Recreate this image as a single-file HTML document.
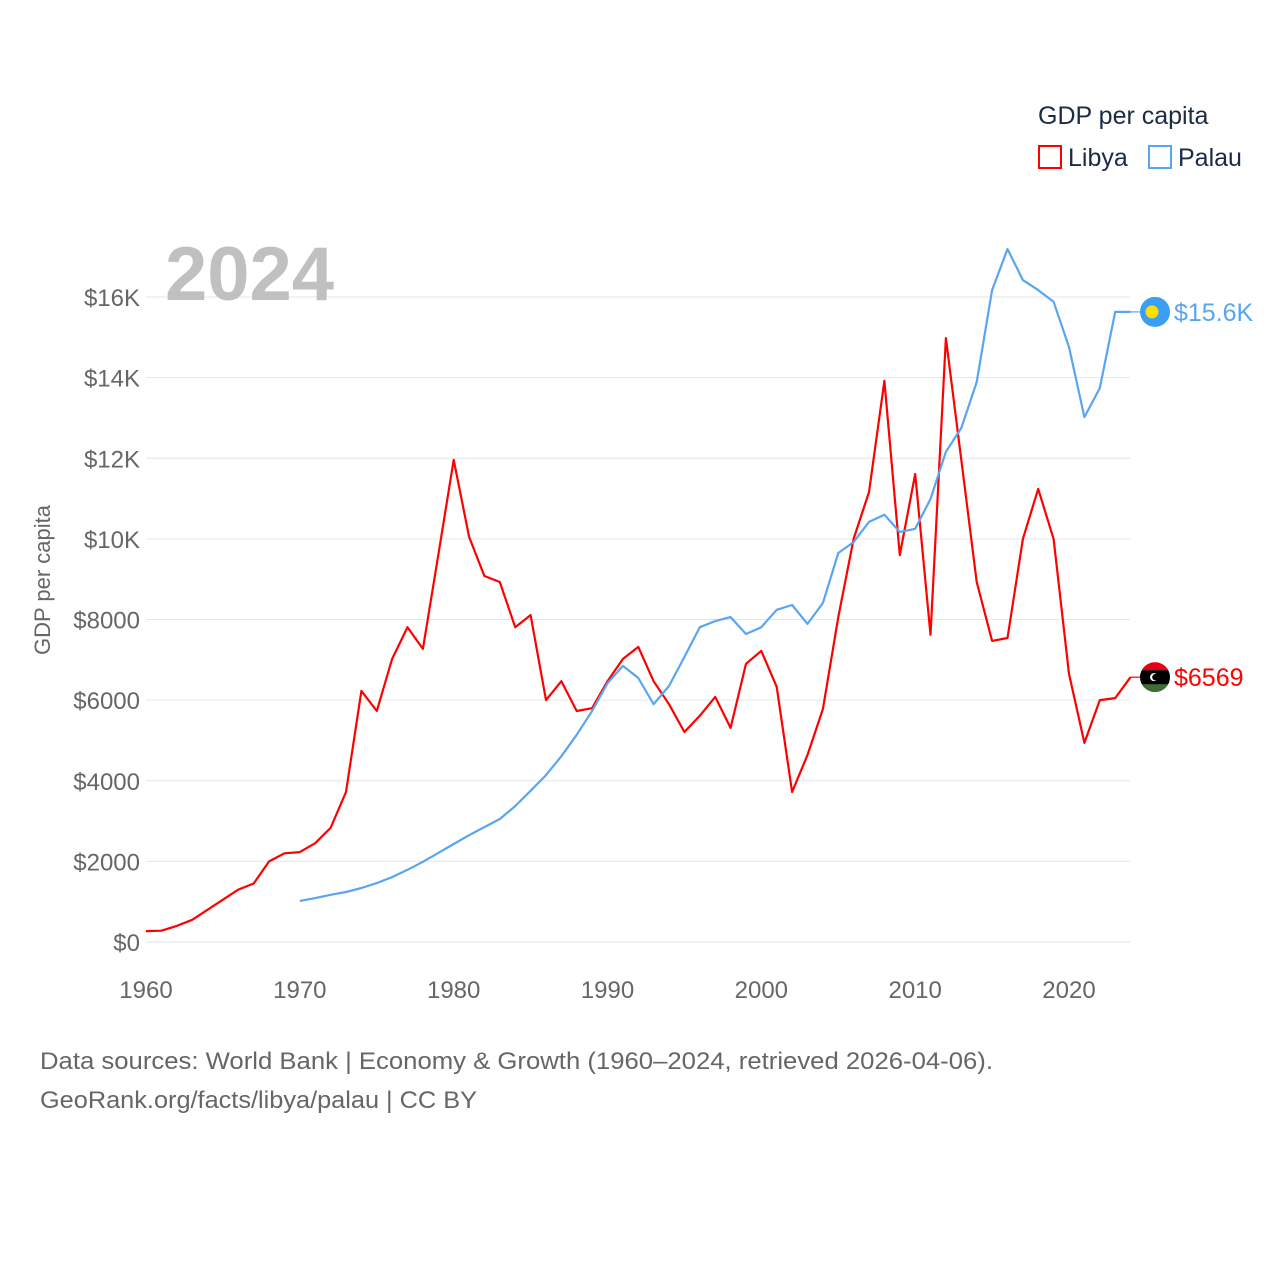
<!DOCTYPE html>
<html><head><meta charset="utf-8"><style>
body{margin:0;background:#fff;font-family:"Liberation Sans",sans-serif;}
svg text{font-family:"Liberation Sans",sans-serif;}
</style></head><body>
<svg id="chart" width="1280" height="1280" viewBox="0 0 1280 1280">
<rect width="1280" height="1280" fill="#fff"/>
<g id="grid"></g><g id="ticks"></g>
<text x="165" y="300" font-size="76" font-weight="bold" fill="#c0c0c0">2024</text>
<text transform="translate(50,580) rotate(-90)" text-anchor="middle" font-size="22" fill="#666">GDP per capita</text>
<g id="series"></g>
<g>
<text x="1038" y="124" font-size="25" fill="#1a2b45">GDP per capita</text>
<rect x="1039" y="146" width="22" height="22" fill="none" stroke="#f00" stroke-width="2"/>
<text x="1068" y="166" font-size="25" fill="#1a2b45">Libya</text>
<rect x="1149" y="146" width="22" height="22" fill="none" stroke="#5aa5f0" stroke-width="2"/>
<text x="1178" y="166" font-size="25" fill="#1a2b45">Palau</text>
</g>
<text x="40" y="1069" font-size="24" fill="#666" textLength="953" lengthAdjust="spacingAndGlyphs">Data sources: World Bank | Economy &amp; Growth (1960–2024, retrieved 2026-04-06).</text>
<text x="40" y="1108" font-size="24" fill="#666" textLength="437" lengthAdjust="spacingAndGlyphs">GeoRank.org/facts/libya/palau | CC BY</text>
</svg>
<script>
const yTicks=[0,2000,4000,6000,8000,10000,12000,14000,16000];
const yTickLabels=["$0","$2000","$4000","$6000","$8000","$10K","$12K","$14K","$16K"];
const xTicks=[1960,1970,1980,1990,2000,2010,2020];
const libyaYears=[1960,1961,1962,1963,1964,1965,1966,1967,1968,1969,1970,1971,1972,1973,1974,1975,1976,1977,1978,1979,1980,1981,1982,1983,1984,1985,1986,1987,1988,1989,1990,1991,1992,1993,1994,1995,1996,1997,1998,1999,2000,2001,2002,2003,2004,2005,2006,2007,2008,2009,2010,2011,2012,2013,2014,2015,2016,2017,2018,2019,2020,2021,2022,2023,2024];
const libyaValues=[270,280,400,550,800,1050,1300,1450,2000,2200,2230,2450,2830,3720,6230,5730,7020,7810,7270,9600,11960,10050,9080,8930,7810,8110,6000,6470,5730,5800,6470,7020,7320,6470,5900,5210,5610,6080,5310,6900,7220,6330,3720,4640,5780,8060,10000,11160,13920,9600,11610,7620,14980,11960,8930,7470,7540,10000,11240,10000,6650,4940,6000,6050,6569];
const palauYears=[1970,1971,1972,1973,1974,1975,1976,1977,1978,1979,1980,1981,1982,1983,1984,1985,1986,1987,1988,1989,1990,1991,1992,1993,1994,1995,1996,1997,1998,1999,2000,2001,2002,2003,2004,2005,2006,2007,2008,2009,2010,2011,2012,2013,2014,2015,2016,2017,2018,2019,2020,2021,2022,2023,2024];
const palauValues=[1020,1090,1170,1240,1340,1460,1610,1790,1990,2210,2430,2650,2850,3050,3370,3750,4140,4610,5140,5730,6420,6850,6550,5900,6350,7070,7810,7960,8060,7640,7810,8240,8360,7890,8410,9650,9920,10420,10600,10170,10250,10990,12160,12750,13890,16170,17190,16420,16170,15880,14760,13020,13740,15630,15630];
const endLabels=["$6569","$15.6K"];
const NS="http://www.w3.org/2000/svg";
const x=yr=>146+(yr-1960)*(1069-146)/60;
const y=v=>942-v*(942-297)/16000;
function mk(tag,attrs,parent){const e=document.createElementNS(NS,tag);for(const k in attrs)e.setAttribute(k,attrs[k]);parent.appendChild(e);return e;}
const grid=document.getElementById('grid'),ticks=document.getElementById('ticks'),series=document.getElementById('series');
yTicks.forEach((t,i)=>{
 const l=mk('line',{x1:146,x2:1130,y1:y(t),y2:y(t),stroke:'#e6e6e6','stroke-width':1},grid);
 
 
 const tx=mk('text',{x:140,y:y(t)+9,'text-anchor':'end','font-size':24,fill:'#666'},ticks);
 tx.textContent=yTickLabels[i];
 
 
});
xTicks.forEach(t=>{
 const tx=mk('text',{x:x(t),y:998,'text-anchor':'middle','font-size':24,fill:'#666'},ticks);
 tx.textContent=t;
 
 
});
function draw(years,vals,color,name){
 const d=years.map((yr,i)=>(i?'L':'M')+x(yr).toFixed(1)+','+y(vals[i]).toFixed(1)).join('');
 const p=mk('path',{d:d,fill:'none',stroke:color,'stroke-width':2.2,'stroke-linejoin':'round'},series);
 
 
 const lx=x(years[years.length-1]),ly=y(vals[vals.length-1]);
 const c=mk('line',{x1:lx,x2:1142,y1:ly,y2:ly,stroke:color,'stroke-width':1.2},series);
 
 
 return ly;
}
const ly1=draw(libyaYears,libyaValues,'#ff0000','libya');
const ly2=draw(palauYears,palauValues,'#5aa5f0','palau');
const pf=mk('g',{},series);


mk('circle',{cx:1155,cy:ly2,r:15,fill:'#3a9ef5'},pf);
mk('circle',{cx:1152,cy:ly2,r:6.5,fill:'#ffde00'},pf);
const lf=mk('g',{},series);


const cp=mk('clipPath',{id:'lc'},lf);
mk('circle',{cx:1155,cy:ly1,r:15},cp);
const gg=mk('g',{'clip-path':'url(#lc)'},lf);
mk('rect',{x:1140,y:ly1-15,width:30,height:8,fill:'#e70013'},gg);
mk('rect',{x:1140,y:ly1-7,width:30,height:15,fill:'#000'},gg);
mk('rect',{x:1140,y:ly1+7,width:30,height:8,fill:'#3f6b35'},gg);
mk('circle',{cx:1154,cy:ly1,r:4,fill:'#fff'},gg);
mk('circle',{cx:1155.5,cy:ly1,r:3.3,fill:'#000'},gg);
const t1=mk('text',{x:1174,y:ly1+9,'font-size':25,fill:'#ff0000'},series);
t1.textContent=endLabels[0];


const t2=mk('text',{x:1174,y:ly2+9,'font-size':25,fill:'#5aa5f0'},series);
t2.textContent=endLabels[1];


</script>
</body></html>
